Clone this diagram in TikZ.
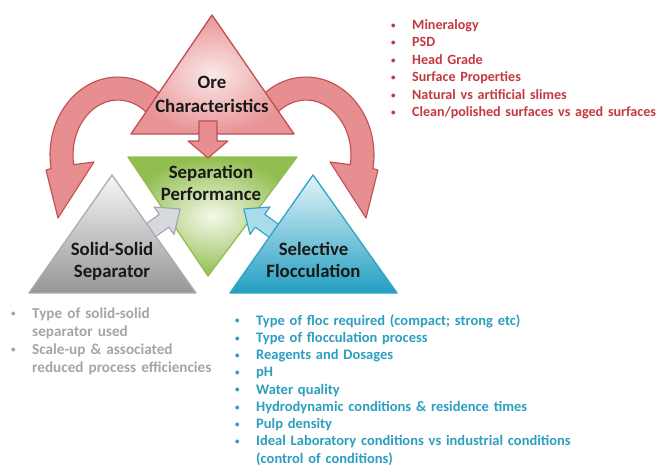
\documentclass[tikz,border=0pt]{standalone}
\usepackage{fontspec}
\setmainfont{Carlito}
\definecolor{oreFill}{RGB}{232,148,150}
\definecolor{oreLight}{RGB}{251,232,232}
\definecolor{oreLine}{RGB}{192,78,82}
\definecolor{arcFill}{RGB}{231,142,144}
\definecolor{sepGreen}{RGB}{146,190,80}
\definecolor{sepLight}{RGB}{244,248,234}
\definecolor{ssTop}{RGB}{246,246,246}
\definecolor{ssBot}{RGB}{150,150,150}
\definecolor{ssLine}{RGB}{172,172,172}
\definecolor{sfTop}{RGB}{228,244,249}
\definecolor{sfBot}{RGB}{35,158,194}
\definecolor{sfLine}{RGB}{48,163,196}
\definecolor{grayArrowFill}{RGB}{214,217,222}
\definecolor{grayArrowLine}{RGB}{160,165,172}
\definecolor{blueArrowFill}{RGB}{168,220,234}
\definecolor{redText}{RGB}{195,58,66}
\definecolor{grayText}{RGB}{165,165,165}
\definecolor{blueText}{RGB}{45,158,192}
\definecolor{labelText}{RGB}{25,25,25}
\newcommand{\bul}{\makebox[21pt][l]{\raisebox{1.2pt}{\fontsize{9}{9}\selectfont •}}}
\newcommand{\hang}{\hspace*{21pt}}
\begin{document}
\begin{tikzpicture}[x=1pt,y=1pt,
  curvearrow/.style={fill=arcFill, draw=oreLine, line width=1.1pt, line join=round},
  trishape/.style={line width=1.3pt, line join=round},
  blockarrow/.style={line width=1.1pt, line join=round},
  mainlabel/.style={text=labelText, text width=130pt, align=center, anchor=base, inner sep=0pt},
  bulletlist/.style={text width=420pt, align=left, anchor=base west, inner sep=0pt,
    font=\fontsize{14.5}{17.5}\selectfont\bfseries}]
\useasboundingbox (0,0) rectangle (660,-466);
\fill[white] (0,0) rectangle (660,-466);

% curved feedback arrows from the ore triangle
\draw[curvearrow] (170.1,-104.9) arc[start angle=40,end angle=190,x radius=68,y radius=78]
  -- (46,-170) -- (58,-218) -- (94,-162) -- (73.7,-164.6)
  arc[start angle=190,end angle=40,x radius=45,y radius=55] -- cycle;
\begin{scope}[xshift=424pt, xscale=-1]
\draw[curvearrow] (170.1,-104.9) arc[start angle=40,end angle=190,x radius=68,y radius=78]
  -- (46,-170) -- (58,-218) -- (94,-162) -- (73.7,-164.6)
  arc[start angle=190,end angle=40,x radius=45,y radius=55] -- cycle;
\end{scope}

% ore characteristics
\shadedraw[trishape, draw=oreLine, inner color=oreLight, outer color=oreFill]
  (212,-15) -- (294,-134) -- (131,-134) -- cycle;

% separation performance
\shadedraw[trishape, draw=sepGreen, inner color=sepLight, outer color=sepGreen]
  (128,-157) -- (297,-157) -- (208,-276) -- cycle;

% arrow from ore to performance
\begin{scope}[shift={(208,-121)}, rotate=-90]
\draw[blockarrow, fill=arcFill, draw=oreLine]
  (0,-9) -- (20,-9) -- (20,-20) -- (37,0) -- (20,20) -- (20,9) -- (0,9) -- cycle;
\end{scope}

% arrows into performance
\begin{scope}[shift={(143,-236)}, rotate=36]
\draw[blockarrow, fill=grayArrowFill, draw=grayArrowLine]
  (0,-8) -- (26,-8) -- (26,-17) -- (46,0) -- (26,17) -- (26,8) -- (0,8) -- cycle;
\end{scope}
\begin{scope}[shift={(281,-236)}, rotate=144]
\draw[blockarrow, fill=blueArrowFill, draw=sfLine]
  (0,-8) -- (26,-8) -- (26,-17) -- (46,0) -- (26,17) -- (26,8) -- (0,8) -- cycle;
\end{scope}

% solid-solid separator and selective flocculation
\shadedraw[trishape, draw=ssLine, top color=ssTop, bottom color=ssBot]
  (112,-175) -- (196,-293) -- (29,-293) -- cycle;
\shadedraw[trishape, draw=sfLine, top color=sfTop, bottom color=sfBot]
  (313,-175) -- (397,-293) -- (230,-293) -- cycle;

% labels
\node[mainlabel, font=\fontsize{18.8}{24}\selectfont\bfseries] (ore) at (212,-88) {Ore\\Characteristics};
\node[mainlabel, font=\fontsize{18.8}{22}\selectfont\bfseries] (sep) at (211,-178) {Separation\\Performance};
\node[mainlabel, font=\fontsize{18.8}{22}\selectfont\bfseries] (sss) at (112,-255) {Solid-Solid\\Separator};
\node[mainlabel, font=\fontsize{18.8}{22}\selectfont\bfseries] (flo) at (313.5,-255) {Selective\\Flocculation};

% bullet lists
\node[bulletlist, text=redText, font=\fontsize{14.1}{17.5}\selectfont\bfseries] (orelist) at (391,-29.3) {%
\bul Mineralogy\\
\bul PSD\\
\bul Head Grade\\
\bul Surface Properties\\
\bul Natural vs artificial slimes\\
\bul Clean/polished surfaces vs aged surfaces};

\node[bulletlist, text=grayText, font=\fontsize{15.2}{18}\selectfont\bfseries] (sslist) at (11,-318) {%
\bul Type of solid-solid\\
\hang separator used\\
\bul Scale-up \& associated\\
\hang reduced process efficiencies};

\node[bulletlist, text=blueText, font=\fontsize{14.5}{17.25}\selectfont\bfseries] (flolist) at (235,-325) {%
\bul Type of floc required (compact; strong etc)\\
\bul Type of flocculation process\\
\bul Reagents and Dosages\\
\bul pH\\
\bul Water quality\\
\bul Hydrodynamic conditions \& residence times\\
\bul Pulp density\\
\bul Ideal Laboratory conditions vs industrial conditions\\
\hang (control of conditions)};
\end{tikzpicture}
\end{document}
